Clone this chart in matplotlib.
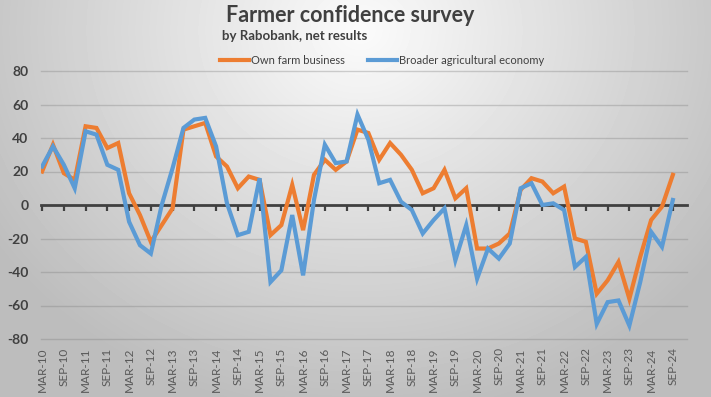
import numpy as np
import matplotlib
matplotlib.use("Agg")
import matplotlib.pyplot as plt

plt.rcParams['font.family'] = ['Lato', 'DejaVu Sans']

# quarterly net results, MAR-10 .. SEP-24
own_farm = [20, 36, 19, 15, 47, 46, 34, 37, 7, -6, -22, -12, -2, 45, 47, 49,
            29, 23, 10, 17, 15, -18, -12, 12, -15, 18, 27, 21, 26, 45, 43, 27,
            37, 30, 21, 7, 10, 21, 4, 10, -26, -26, -23, -17, 9, 16, 14, 7,
            11, -20, -22, -53, -45, -34, -56, -31, -9, -1, 18]
broader = [23, 35, 24, 10, 44, 42, 24, 21, -10, -24, -29, 0, 22, 46, 51, 52,
           35, 1, -18, -16, 16, -46, -39, -6, -42, 3, 36, 25, 26, 54, 39, 13,
           15, 2, -3, -17, -9, -2, -33, -12, -44, -26, -32, -23, 10, 13, 0, 1,
           -3, -37, -31, -71, -58, -57, -72, -46, -16, -25, 3]
tick_labels = ['MAR-10', 'SEP-10', 'MAR-11', 'SEP-11', 'MAR-12', 'SEP-12',
               'MAR-13', 'SEP-13', 'MAR-14', 'SEP-14', 'MAR-15', 'SEP-15',
               'MAR-16', 'SEP-16', 'MAR-17', 'SEP-17', 'MAR-18', 'SEP-18',
               'MAR-19', 'SEP-19', 'MAR-20', 'SEP-20', 'MAR-21', 'SEP-21',
               'MAR-22', 'SEP-22', 'MAR-23', 'SEP-23', 'MAR-24', 'SEP-24']
y_ticks = [-80, -60, -40, -20, 0, 20, 40, 60, 80]

ORANGE = '#ED7D31'
BLUE = '#5B9BD5'
TEXT = '#404040'

W, H = 711, 397
fig = plt.figure(figsize=(W / 100, H / 100), dpi=100)

# radial grey background like the Excel chart area
bg = fig.add_axes([0, 0, 1, 1], zorder=-10)
yy, xx = np.mgrid[0:H, 0:W]
r = np.sqrt(((xx - 360) / 430.0) ** 2 + ((yy - 30) / 380.0) ** 2)
shade = np.clip(0.985 - 0.24 * r, 0.74, 1.0)
bg.imshow(shade, cmap='gray', vmin=0, vmax=1, aspect='auto',
          extent=(0, 1, 0, 1), origin='upper')
bg.set_axis_off()

ax = fig.add_axes([41 / W, 1 - 339 / H, 646 / W, 268 / H])
ax.set_facecolor('none')

x = np.arange(len(own_farm))
ax.plot(x, own_farm, color=ORANGE, lw=3, solid_joinstyle='miter',
        label='Own farm business', zorder=3)
ax.plot(x, broader, color=BLUE, lw=3, solid_joinstyle='miter',
        label='Broader agricultural economy', zorder=4)

ax.set_xlim(-0.1, 59.3)
ax.set_ylim(-80, 80)
ax.set_yticks(y_ticks)
ax.set_yticklabels([str(v) for v in y_ticks], fontsize=10, fontweight='bold',
                   color=TEXT)
ax.tick_params(axis='y', length=0, pad=9)
for v in y_ticks:
    if v != 0:
        ax.axhline(v, color='#7f7f7f', alpha=0.35, lw=1, zorder=1,
                   clip_on=False)

for s in ['top', 'right', 'left']:
    ax.spines[s].set_visible(False)
ax.spines['bottom'].set_position(('data', 0))
ax.spines['bottom'].set_color(TEXT)
ax.spines['bottom'].set_linewidth(2)
ax.spines['bottom'].set_zorder(2)
ax.set_xticks(x[::2])
ax.set_xticklabels([])
ax.tick_params(axis='x', direction='out', length=4, width=1.6, color=TEXT)

sec = ax.secondary_xaxis('bottom')
sec.set_xticks(x[::2])
sec.set_xticklabels(tick_labels, rotation=90, fontsize=8.5, color='#595959')
sec.tick_params(length=0, pad=6)
sec.spines['bottom'].set_visible(False)

fig.text(0.492, 1 - 15 / H, 'Farmer confidence survey', ha='center',
         va='center', fontsize=15.5, fontweight='bold', color=TEXT)
fig.text(222 / W, 1 - 36 / H, 'by Rabobank, net results', ha='left',
         va='center', fontsize=9.5, fontweight='bold', color=TEXT)

fig.legend(loc='center', bbox_to_anchor=(382 / W, 1 - 60 / H), ncol=2,
           frameon=False, fontsize=8, handlelength=2.6, handletextpad=0.2,
           columnspacing=2.1, labelcolor='#404040')

fig.savefig('out.png', dpi=100)
